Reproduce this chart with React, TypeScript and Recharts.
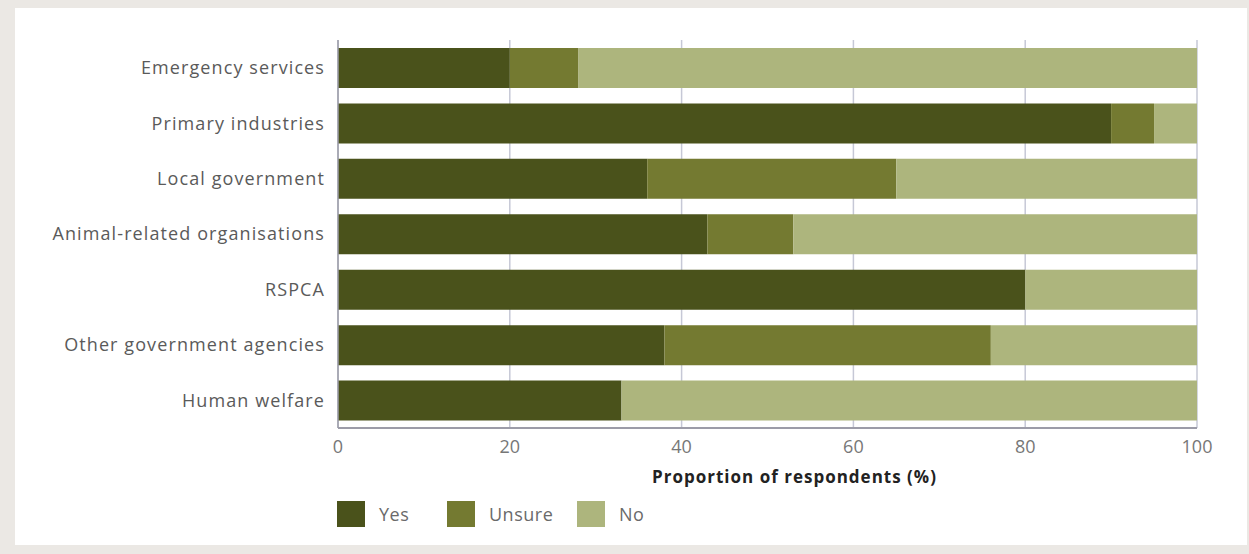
import { Bar, BarChart, CartesianGrid, XAxis, YAxis } from "recharts";

const categories = [
  "Emergency services",
  "Primary industries",
  "Local government",
  "Animal-related organisations",
  "RSPCA",
  "Other government agencies",
  "Human welfare",
];
const yes = [20, 90, 36, 43, 80, 38, 33];
const unsure = [8, 5, 29, 10, 0, 38, 0];
const no = [72, 5, 35, 47, 20, 24, 67];
const xTicks = [0, 20, 40, 60, 80, 100];

const series = [
  { key: "yes", name: "Yes", color: "#4a521b" },
  { key: "unsure", name: "Unsure", color: "#747a31" },
  { key: "no", name: "No", color: "#adb57d" },
];
// legend item widths, square + text + gap
const legendWidths = [110, 130, 80];

const data = categories.map((name, i) => ({
  name,
  yes: yes[i],
  unsure: unsure[i],
  no: no[i],
}));

const font = "'Open Sans', sans-serif";

function ChartLegend() {
  return (
    <div
      style={{
        position: "absolute",
        left: 322,
        top: 493,
        display: "flex",
        alignItems: "center",
        fontFamily: font,
      }}
    >
      {series.map((s, i) => (
        <div key={s.key} style={{ display: "flex", alignItems: "center", width: legendWidths[i] }}>
          <div style={{ width: 28, height: 26, background: s.color }} />
          <span style={{ marginLeft: 14, fontSize: 18, letterSpacing: 0.5, color: "#6a6a6a" }}>
            {s.name}
          </span>
        </div>
      ))}
    </div>
  );
}

export default function App() {
  return (
    <div
      style={{
        position: "absolute",
        left: 0,
        top: 0,
        width: 1249,
        height: 554,
        background: "#ebe8e4",
      }}
    >
      <div
        style={{
          position: "absolute",
          left: 15,
          top: 8,
          width: 1232,
          height: 537,
          background: "#ffffff",
        }}
      >
        <BarChart
          width={1232}
          height={537}
          data={data}
          layout="vertical"
          margin={{ top: 32, right: 50, bottom: 87, left: 0 }}
          barSize={40}
        >
          <CartesianGrid horizontal={false} stroke="#c6c8d6" strokeWidth={1.5} />
          <XAxis
            type="number"
            domain={[0, 100]}
            ticks={xTicks}
            height={30}
            tickLine={false}
            tickMargin={6}
            axisLine={{ stroke: "#9c9ca8", strokeWidth: 2 }}
            tick={{ fontSize: 18, fill: "#777777", fontFamily: font }}
            label={{
              value: "Proportion of respondents (%)",
              position: "bottom",
              offset: 13,
              dx: 27,
              style: {
                fontSize: 17,
                fontWeight: 700,
                letterSpacing: 1,
                fill: "#222",
                fontFamily: font,
              },
            }}
          />
          <YAxis
            type="category"
            dataKey="name"
            width={323}
            tickLine={false}
            tickMargin={7}
            axisLine={{ stroke: "#9c9ca8", strokeWidth: 1.5 }}
            tick={{ fontSize: 18, letterSpacing: 1.1, fill: "#5a5a5a", fontFamily: font }}
          />
          {series.map((s) => (
            <Bar
              key={s.key}
              dataKey={s.key}
              name={s.name}
              stackId="a"
              fill={s.color}
              isAnimationActive={false}
            />
          ))}
        </BarChart>
        <ChartLegend />
      </div>
    </div>
  );
}
